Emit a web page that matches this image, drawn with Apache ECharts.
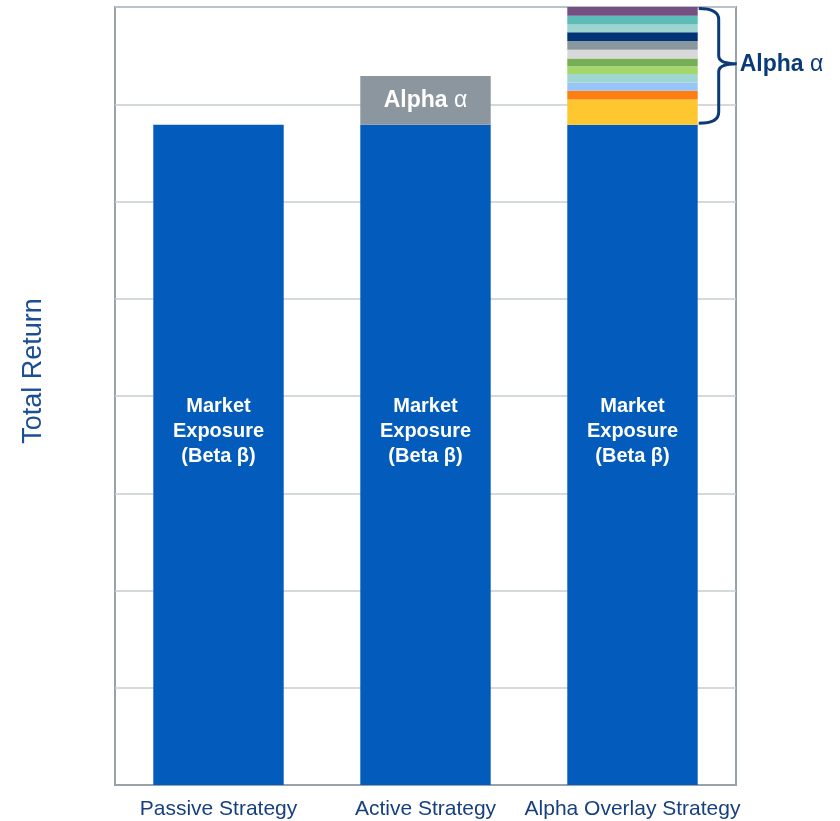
<!DOCTYPE html>
<html>
<head>
<meta charset="utf-8">
<script src="https://cdn.jsdelivr.net/npm/echarts@6/dist/echarts.min.js"></script>
<style>
  html, body { margin: 0; padding: 0; background: #ffffff; }
  #chart { width: 840px; height: 821px; }
</style>
</head>
<body>
<div id="chart"></div>
<script>
// Strategies along the x axis
const categories = ['Passive Strategy', 'Active Strategy', 'Alpha Overlay Strategy'];

// Market exposure (beta) shared by every strategy
const betaValues = [6.79, 6.79, 6.79];

// Single alpha source of the active strategy
const activeAlphaValues = [null, 0.5, null];

// Independent alpha sources stacked on the overlay strategy (bottom to top)
const overlayAlphaValues = [0.26, 0.09, 0.08, 0.09, 0.08, 0.08, 0.09, 0.09, 0.09, 0.08, 0.09, 0.09];
const overlayColors = ['#fec730', '#fe7f0f', '#97c5fa', '#9fd6d2', '#a5d66b', '#75ae56',
                       '#d8d8d8', '#8b979f', '#003476', '#9dd4cf', '#5cbcb8', '#744f81'];

// Value-axis range
const yMin = 0, yMax = 8, yStep = 1;

const FONT = '"Liberation Sans", Arial, Helvetica, sans-serif';
const BAR_W = 0.63;

const series = [];

series.push({
  name: 'Beta',
  type: 'bar',
  stack: 'total',
  barWidth: (BAR_W * 100) + '%',
  data: betaValues,
  itemStyle: { color: '#035bbb' },
  label: {
    show: true,
    position: ['50%', '46.5%'],
    align: 'center',
    verticalAlign: 'middle',
    formatter: 'Market\nExposure\n(Beta β)',
    color: '#ffffff',
    fontFamily: FONT,
    fontWeight: 'bold',
    fontSize: 20,
    lineHeight: 25
  }
});

series.push({
  name: 'Alpha',
  type: 'bar',
  stack: 'total',
  data: activeAlphaValues,
  itemStyle: { color: '#8b969f' },
  label: {
    show: true,
    position: 'inside',
    formatter: '{b|Alpha }{a|α}',
    rich: {
      b: { color: '#ffffff', fontFamily: FONT, fontWeight: 'bold', fontSize: 23 },
      a: { color: '#ffffff', fontFamily: FONT, fontWeight: 'normal', fontSize: 23 }
    }
  }
});

overlayAlphaValues.forEach(function (v, i) {
  series.push({
    name: 'Overlay alpha ' + (i + 1),
    type: 'bar',
    stack: 'total',
    data: [null, null, v],
    itemStyle: { color: overlayColors[i] }
  });
});

// Curly brace marking the stacked alpha on the overlay bar
const overlayIndex = 2;
const overlayBase = betaValues[overlayIndex];
const overlayTop = overlayBase + overlayAlphaValues.reduce(function (s, v) { return s + v; }, 0);

series.push({
  name: 'Alpha brace',
  type: 'custom',
  silent: true,
  z: 10,
  data: [[overlayIndex, overlayBase, overlayTop]],
  renderItem: function (params, api) {
    const top = api.coord([api.value(0), api.value(2)]);
    const bottom = api.coord([api.value(0), api.value(1)]);
    const band = api.size([1, 0])[0];
    const xr = top[0] + band * BAR_W / 2 + 1;
    const y0 = top[1] + 1.5;
    const y1 = bottom[1] - 1.5;
    const ym = (y0 + y1) / 2 - 2;
    const dx = 20, r = 11, tip = 38;
    const path =
      'M' + xr + ',' + y0 +
      ' Q' + (xr + dx) + ',' + y0 + ' ' + (xr + dx) + ',' + (y0 + r) +
      ' L' + (xr + dx) + ',' + (ym - 8) +
      ' Q' + (xr + dx) + ',' + ym + ' ' + (xr + tip) + ',' + ym +
      ' Q' + (xr + dx) + ',' + ym + ' ' + (xr + dx) + ',' + (ym + 8) +
      ' L' + (xr + dx) + ',' + (y1 - r) +
      ' Q' + (xr + dx) + ',' + y1 + ' ' + xr + ',' + y1;
    return {
      type: 'group',
      children: [
        {
          type: 'path',
          shape: { pathData: path },
          style: { fill: null, stroke: '#0b3a78', lineWidth: 3 }
        },
        {
          type: 'text',
          x: xr + tip + 3,
          y: ym + 1,
          style: {
            text: '{b|Alpha }{a|α}',
            verticalAlign: 'middle',
            align: 'left',
            rich: {
              b: { fill: '#0b3a78', fontFamily: FONT, fontWeight: 'bold', fontSize: 23 },
              a: { fill: '#0b3a78', fontFamily: FONT, fontWeight: 'normal', fontSize: 23 }
            }
          }
        }
      ]
    };
  }
});

const chart = echarts.init(document.getElementById('chart'), null, { renderer: 'canvas' });
chart.setOption({
  backgroundColor: '#ffffff',
  animation: false,
  grid: {
    left: 115,
    right: 104,
    top: 7,
    bottom: 36,
    show: true,
    borderColor: '#98a2ab',
    borderWidth: 2,
    containLabel: false
  },
  xAxis: {
    type: 'category',
    data: categories,
    axisTick: { show: false },
    axisLine: { show: true, lineStyle: { color: '#98a2ab', width: 2 } },
    axisLabel: {
      margin: 14,
      color: '#17407e',
      fontFamily: FONT,
      fontSize: 21,
      interval: 0
    }
  },
  yAxis: {
    type: 'value',
    min: yMin,
    max: yMax,
    interval: yStep,
    name: 'Total Return',
    nameLocation: 'middle',
    nameGap: 68,
    nameRotate: 90,
    nameTextStyle: {
      color: '#1c4e94',
      fontFamily: FONT,
      fontSize: 27,
      padding: [0, 0, 0, 50]
    },
    axisLabel: { show: false },
    axisTick: { show: false },
    axisLine: { show: false },
    splitLine: { show: true, lineStyle: { color: '#c6ccd1', width: 1.5 } }
  },
  series: series
});
</script>
</body>
</html>
